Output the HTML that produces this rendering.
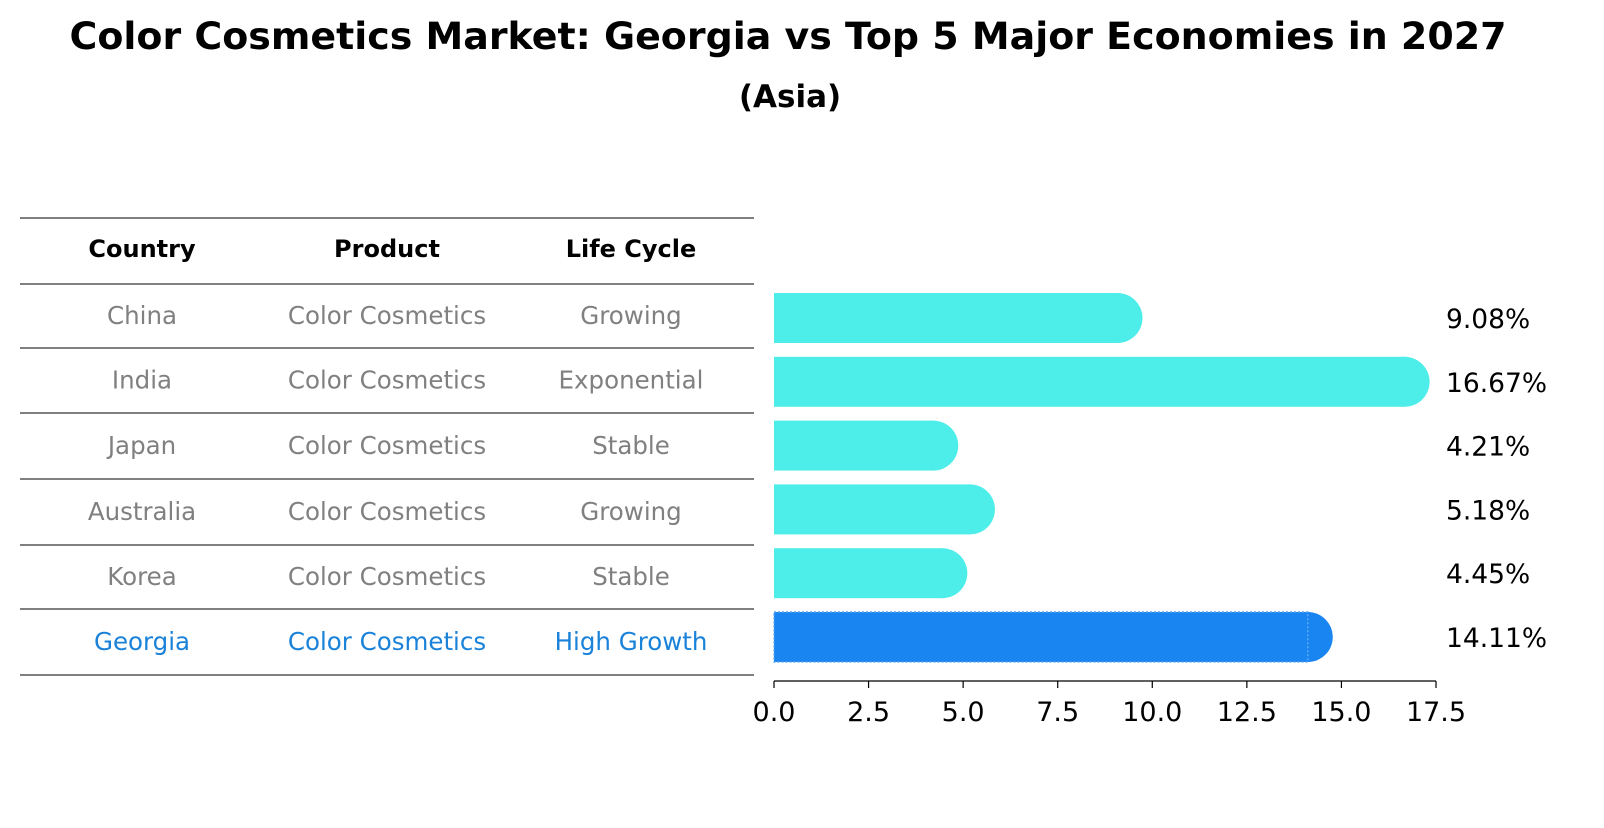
<!DOCTYPE html>
<html><head><meta charset="utf-8">
<style>
body{margin:0;background:#fff;font-family:"Liberation Sans","DejaVu Sans",sans-serif;}
svg text{font-family:"DejaVu Sans","Liberation Sans",sans-serif;}
</style></head>
<body>
<svg id="chart" width="1604" height="823" viewBox="0 0 1604 823" xmlns="http://www.w3.org/2000/svg">
<text x="788" y="49" text-anchor="middle" font-size="37" font-weight="bold" textLength="1437" lengthAdjust="spacingAndGlyphs">Color Cosmetics Market: Georgia vs Top 5 Major Economies in 2027</text>
<text x="790" y="107" text-anchor="middle" font-size="31" font-weight="bold">(Asia)</text>
<g id="table"></g>
<g id="bars"></g>
<g id="axis"></g>
</svg>
<script>
const countries=["China","India","Japan","Australia","Korea","Georgia"];
const products=["Color Cosmetics","Color Cosmetics","Color Cosmetics","Color Cosmetics","Color Cosmetics","Color Cosmetics"];
const lifeCycles=["Growing","Exponential","Stable","Growing","Stable","High Growth"];
const growth=[9.08,16.67,4.21,5.18,4.45,14.11];
const ticks=[0,2.5,5,7.5,10,12.5,15,17.5];
const NS="http://www.w3.org/2000/svg";
function mk(tag,attrs,parent,text){const e=document.createElementNS(NS,tag);for(const k in attrs)e.setAttribute(k,attrs[k]);if(text!==undefined)e.textContent=text;parent.appendChild(e);return e;}
const x0=774,x1=1436,xmax=17.5;
const xs=v=>x0+(v/xmax)*(x1-x0);
const rowY=i=>318+i*63.8;
const barH=50;
const tbl=document.getElementById('table');
const lines=[218,284,348,413,479,545,609,675];
lines.forEach(y=>{const l=mk('line',{x1:20,x2:754,y1:y,y2:y,stroke:'#000','stroke-width':1},tbl);

});
const colX=[142,387,631];
["Country","Product","Life Cycle"].forEach((h,j)=>{const t=mk('text',{x:colX[j],y:257,'text-anchor':'middle','font-size':24,'font-weight':'bold'},tbl,h);

});
countries.forEach((c,i)=>{
  const y=(lines[i+1]+lines[i+2])/2+8;
  const col=i===countries.length-1?'#1a82d9':'#808080';
  [c,products[i],lifeCycles[i]].forEach((v,j)=>{const t=mk('text',{x:colX[j],y:y,'text-anchor':'middle','font-size':24.5,fill:col},tbl,v);
  
  });
});
const bars=document.getElementById('bars');
growth.forEach((v,i)=>{
  const cy=rowY(i);const last=i===growth.length-1;
  const fill=last?'#1985f1':'#4deeea';
  const g=mk('g',{},bars);
  
  
  const xe=xs(v);
  mk('rect',{x:x0,y:cy-barH/2,width:Math.max(0,xe-x0),height:barH,fill:fill},g);
  mk('circle',{cx:xe,cy:cy,r:barH/2,fill:fill},g);
  if(last) mk('rect',{x:x0,y:cy-barH/2,width:Math.max(0,xe-x0),height:barH,fill:'none',stroke:'#5aa8f5','stroke-width':1.5,'stroke-dasharray':'2,2'},g);
  const t=mk('text',{x:1446,y:cy+10,'font-size':26.5},bars,v.toFixed(2)+'%');
  
  
});
const ax=document.getElementById('axis');
mk('line',{x1:x0,x2:x1,y1:681,y2:681,stroke:'#000','stroke-width':1.2},ax);
ticks.forEach(t=>{const x=xs(t);
  mk('line',{x1:x,x2:x,y1:681,y2:688,stroke:'#000','stroke-width':1.2},ax);
  const l=mk('text',{x:x,y:721,'text-anchor':'middle','font-size':27},ax,t.toFixed(1));
  
  });
</script>
</body></html>
